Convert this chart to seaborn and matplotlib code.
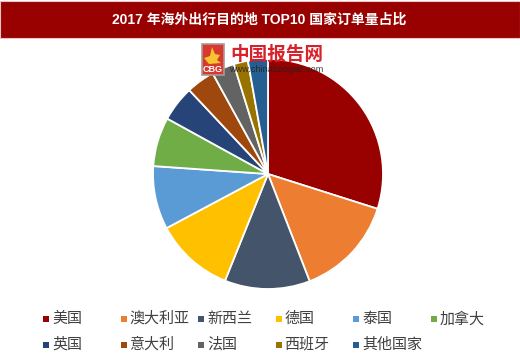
import matplotlib
matplotlib.use('Agg')
import matplotlib.pyplot as plt
from matplotlib.patches import Rectangle, Polygon
import seaborn as sns

# share of orders
paises = ['美国', '澳大利亚', '新西兰', '德国', '泰国', '加拿大',
          '英国', '意大利', '法国', '西班牙', '其他国家']
valores = [29.9, 14.2, 12.0, 11.1, 8.9, 6.9, 5.0, 4.0, 3.2, 2.0, 2.8]
cores = ['#990000', '#ED7D31', '#44546A', '#FFC000', '#5B9BD5', '#70AD47',
         '#264478', '#9E480E', '#636363', '#997300', '#255E91']
titulo = '2017 年海外出行目的地 TOP10 国家订单量占比'

sns.set_theme(style='white')
plt.rcParams['font.family'] = ['Liberation Sans', 'Noto Sans CJK SC', 'DejaVu Sans']

W, H = 520, 358
fig = plt.figure(figsize=(W / 100, H / 100), dpi=100, facecolor='white')
ax = fig.add_axes([0, 0, 1, 1])

ax.pie(valores, colors=sns.color_palette(cores, len(cores)), startangle=90,
       counterclock=False, center=(268, H - 174), radius=115, frame=True,
       wedgeprops={'edgecolor': 'white', 'linewidth': 1.3})
ax.set_xlim(0, W)
ax.set_ylim(0, H)
ax.axis('off')

# title bar
ax.add_patch(Rectangle((0, H - 37.5), W, 36.5, facecolor='#990000',
                       edgecolor='#EBC4C4', linewidth=0.8, zorder=5))
ax.text(259, H - 19.5, titulo, color='white', fontsize=10, fontweight='bold',
        ha='center', va='center', zorder=6)

# watermark
ax.add_patch(Rectangle((201.5, H - 75), 22.5, 31, facecolor='#D9382E',
                       edgecolor='#A89A98', linewidth=1.2, zorder=7))
ax.add_patch(Polygon([(204, H - 58), (210, H - 56), (212, H - 47), (215, H - 54),
                      (220, H - 55), (217, H - 60), (221, H - 63), (209, H - 64)],
                     facecolor='#F5C430', edgecolor='none', zorder=8))
ax.text(212.5, H - 69.5, 'CBG', color='white', fontsize=6.5, fontweight='bold',
        ha='center', va='center', zorder=8)
ax.text(276.5, H - 55, '中国报告网', color='#D7222B', fontsize=13.4, fontweight='bold',
        ha='center', va='center', zorder=7)
ax.text(276.5, H - 70, 'www.chinabaogao.com', color='#222222', fontsize=6.6,
        ha='center', va='center', zorder=7, alpha=0.85)

# legend, evenly spaced in two rows
for i, (nome, cor) in enumerate(zip(paises, cores)):
    col, lin = i % 6, i // 6
    x = 43 + col * 77.5
    y = H - (319 + lin * 25.5)
    ax.add_patch(Rectangle((x, y - 3), 6, 6, facecolor=cor, edgecolor='none'))
    ax.text(x + 9, y, nome, color='#404040', fontsize=10.8, ha='left', va='center')

fig.savefig('out.png', dpi=100)
